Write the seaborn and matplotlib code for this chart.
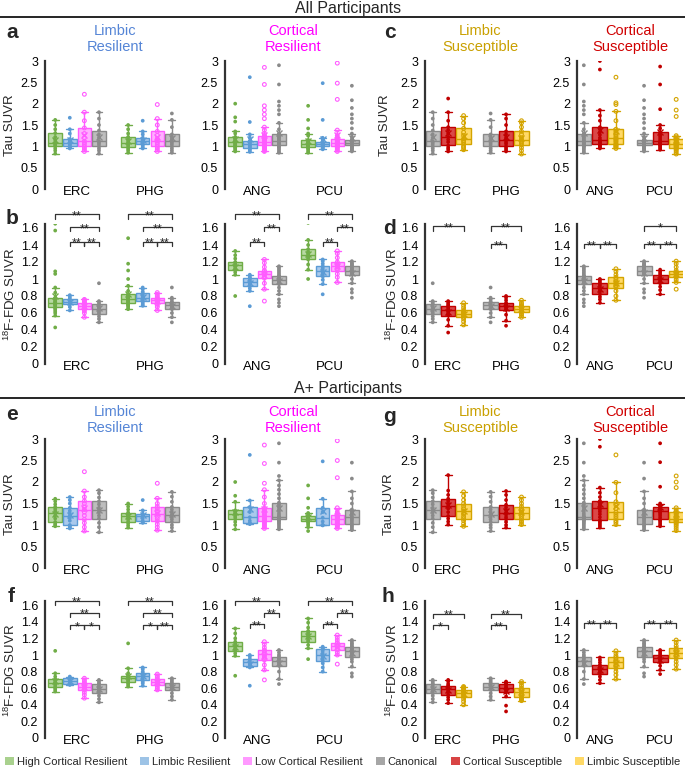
import matplotlib
matplotlib.use("Agg")
import matplotlib.pyplot as plt
from matplotlib.lines import Line2D
from matplotlib.patches import Patch
import pandas as pd
import seaborn as sns

sns.set_theme(style="white")
plt.rcParams["font.family"] = ["Liberation Sans", "DejaVu Sans"]
plt.rcParams["mathtext.fontset"] = "custom"
plt.rcParams["mathtext.rm"] = "Liberation Sans"
plt.rcParams["mathtext.it"] = "Liberation Sans"
plt.rcParams["mathtext.default"] = "regular"

W, H = 685, 768

# ---------------- categories / ticks ----------------
RES_GROUPS = ["High Cortical Resilient", "Limbic Resilient", "Low Cortical Resilient", "Canonical"]
SUS_GROUPS = ["Canonical", "Cortical Susceptible", "Limbic Susceptible"]
LEGEND_GROUPS = ["High Cortical Resilient", "Limbic Resilient", "Low Cortical Resilient",
                 "Canonical", "Cortical Susceptible", "Limbic Susceptible"]
LIMBIC = ["ERC", "PHG"]
CORTICAL = ["ANG", "PCU"]
TAU_TICKS = [0, 0.5, 1, 1.5, 2, 2.5, 3]
TAU_LABELS = ["0", "0.5", "1", "1.5", "2", "2.5", "3"]
FDG_TICKS = [0, 0.2, 0.4, 0.6, 0.8, 1.0, 1.2, 1.4, 1.6]
FDG_LABELS = ["0", "0.2", "0.4", "0.6", "0.8", "1", "1.2", "1.4", "1.6"]

# ---------------- canonical group values (shared between panels) ----------------
CAN_TAU_ALL_ERC = [0.83, 0.9, 0.95, 1.0, 1.05, 1.09, 1.12, 1.2, 1.28, 1.37, 1.5, 1.65, 1.8]
CAN_TAU_ALL_PHG = [0.85, 0.9, 0.95, 1.0, 1.05, 1.09, 1.12, 1.17, 1.22, 1.28, 1.45, 1.62, 1.77]
CAN_TAU_ALL_ANG = [0.85, 0.88, 0.92, 0.95, 0.98, 1.0, 1.01, 1.02, 1.04, 1.05, 1.06, 1.07, 1.08, 1.09, 1.1, 1.11,
                   1.12, 1.14, 1.17, 1.2, 1.22, 1.25, 1.27, 1.29, 1.3, 1.4, 1.55, 1.75, 1.85, 1.95, 2.05, 2.45, 2.9]
CAN_TAU_ALL_PCU = [0.88, 0.9, 0.92, 0.94, 0.96, 0.98, 0.99, 1.0, 1.01, 1.02, 1.03, 1.04, 1.04, 1.05, 1.05, 1.06,
                   1.06, 1.07, 1.08, 1.09, 1.1, 1.11, 1.12, 1.13, 1.14, 1.15, 1.15, 1.16, 1.22, 1.3, 1.42, 1.55,
                   1.65, 1.75, 1.9, 2.08, 2.42]
CAN_FDG_ALL_ERC = [0.49, 0.53, 0.56, 0.59, 0.61, 0.63, 0.645, 0.66, 0.68, 0.7, 0.72, 0.74, 0.95]
CAN_FDG_ALL_PHG = [0.49, 0.55, 0.6, 0.645, 0.66, 0.675, 0.69, 0.705, 0.72, 0.735, 0.76, 0.78, 0.9]
CAN_FDG_ALL_ANG = [0.68, 0.72, 0.76, 0.82, 0.86, 0.9, 0.94, 0.95, 0.96, 0.97, 0.98, 0.985, 0.99, 1.0, 1.01,
                   1.02, 1.03, 1.035, 1.04, 1.06, 1.08, 1.1, 1.12, 1.14, 1.15]
CAN_FDG_ALL_PCU = [0.78, 0.84, 0.88, 0.95, 1.0, 1.05, 1.06, 1.07, 1.08, 1.09, 1.1, 1.11, 1.12, 1.13, 1.14,
                   1.15, 1.16, 1.17, 1.18, 1.19, 1.21]
CAN_TAU_APOS_ERC = [0.83, 0.95, 1.05, 1.15, 1.22, 1.29, 1.34, 1.4, 1.48, 1.55, 1.64, 1.74, 1.81]
CAN_TAU_APOS_PHG = [0.86, 0.94, 1.0, 1.07, 1.13, 1.18, 1.24, 1.3, 1.36, 1.42, 1.54, 1.66, 1.77]
CAN_TAU_APOS_ANG = [0.9, 0.94, 0.98, 1.02, 1.05, 1.08, 1.1, 1.12, 1.13, 1.14, 1.15, 1.16, 1.16, 1.17, 1.18, 1.18,
                    1.19, 1.22, 1.26, 1.31, 1.36, 1.41, 1.45, 1.49, 1.52, 1.62, 1.72, 1.82, 1.92, 2.04, 2.14,
                    2.45, 2.9]
CAN_TAU_APOS_PCU = [0.88, 0.91, 0.95, 0.98, 1.01, 1.03, 1.07, 1.11, 1.14, 1.17, 1.19, 1.23, 1.27, 1.31, 1.34,
                    1.36, 1.5, 1.62, 1.78, 2.08, 2.45]
CAN_FDG_APOS_ERC = [0.43, 0.47, 0.51, 0.54, 0.56, 0.58, 0.595, 0.61, 0.625, 0.645, 0.66, 0.68, 0.7]
CAN_FDG_APOS_PHG = [0.46, 0.5, 0.54, 0.58, 0.595, 0.61, 0.62, 0.635, 0.65, 0.66, 0.68, 0.7, 0.72]
CAN_FDG_APOS_ANG = [0.65, 0.71, 0.8, 0.87, 0.89, 0.91, 0.93, 0.95, 0.96, 0.98, 1.0, 1.03, 1.06]
CAN_FDG_APOS_PCU = [0.74, 0.78, 0.86, 0.92, 0.95, 0.98, 1.0, 1.01, 1.03, 1.04, 1.05, 1.06, 1.07, 1.08, 1.09,
                    1.1, 1.11, 1.13, 1.14, 1.16, 1.18]

# ---------------- panel a : Tau, all participants, resilient groups ----------------
A_ERC = [[0.83, 0.9, 0.95, 1.0, 1.03, 1.06, 1.08, 1.15, 1.22, 1.31, 1.4, 1.5, 1.62],
         [0.95, 0.97, 0.98, 1.0, 1.03, 1.05, 1.08, 1.1, 1.13, 1.17, 1.3, 1.4, 1.67],
         [0.88, 0.92, 0.96, 1.0, 1.05, 1.09, 1.12, 1.2, 1.3, 1.43, 1.6, 1.8, 2.22],
         CAN_TAU_ALL_ERC]
A_PHG = [[0.85, 0.9, 0.94, 0.98, 1.02, 1.05, 1.08, 1.12, 1.17, 1.22, 1.3, 1.4, 1.5],
         [0.95, 0.98, 1.02, 1.05, 1.08, 1.1, 1.12, 1.14, 1.17, 1.2, 1.28, 1.35, 1.6],
         [0.88, 0.92, 0.96, 1.0, 1.05, 1.09, 1.12, 1.18, 1.26, 1.35, 1.5, 1.65, 1.98],
         CAN_TAU_ALL_PHG]
A_ANG = [[0.88, 0.9, 0.93, 0.96, 0.98, 1.0, 1.02, 1.04, 1.06, 1.08, 1.1, 1.13, 1.15, 1.18, 1.2, 1.22, 1.3, 1.35,
          1.58, 1.68, 2.0],
         [0.87, 0.9, 0.93, 0.95, 0.97, 0.99, 1.01, 1.03, 1.05, 1.07, 1.09, 1.11, 1.13, 1.2, 1.28, 1.57, 2.62],
         [0.88, 0.9, 0.92, 0.94, 0.96, 0.97, 0.98, 0.99, 1.0, 1.02, 1.03, 1.04, 1.05, 1.06, 1.07, 1.08, 1.09, 1.09,
          1.1, 1.12, 1.14, 1.16, 1.18, 1.2, 1.21, 1.22, 1.24, 1.25, 1.3, 1.38, 1.45, 1.65, 1.75, 1.85, 1.95, 2.45,
          2.85],
         CAN_TAU_ALL_ANG]
A_PCU = [[0.85, 0.88, 0.92, 0.95, 0.97, 0.98, 0.99, 1.01, 1.03, 1.04, 1.05, 1.07, 1.09, 1.11, 1.13, 1.15, 1.25,
          1.3, 1.42, 1.62, 1.95],
         [0.93, 0.95, 0.97, 0.99, 1.0, 1.02, 1.03, 1.04, 1.05, 1.06, 1.07, 1.09, 1.1, 1.15, 1.2, 1.62, 2.48],
         [0.88, 0.91, 0.94, 0.97, 0.99, 1.0, 1.02, 1.04, 1.06, 1.07, 1.08, 1.1, 1.12, 1.14, 1.16, 1.17, 1.25,
          1.38, 2.1, 2.48, 2.95],
         CAN_TAU_ALL_PCU]

# ---------------- panel b : FDG, all participants, resilient groups ----------------
B_ERC = [[0.43, 0.57, 0.6, 0.62, 0.64, 0.655, 0.665, 0.68, 0.69, 0.7, 0.71, 0.715, 0.72, 0.73, 0.74, 0.755,
          0.765, 0.775, 0.78, 0.84, 0.9, 1.06, 1.09, 1.57, 1.65],
         [0.63, 0.67, 0.7, 0.72, 0.735, 0.75, 0.77, 0.79, 0.81],
         [0.55, 0.6, 0.625, 0.645, 0.66, 0.675, 0.685, 0.7, 0.71, 0.72, 0.735, 0.75, 0.76],
         CAN_FDG_ALL_ERC]
B_PHG = [[0.645, 0.66, 0.68, 0.69, 0.7, 0.71, 0.72, 0.73, 0.74, 0.75, 0.76, 0.765, 0.77, 0.78, 0.79, 0.8, 0.81,
          0.815, 0.82, 0.86, 0.92, 1.0, 1.1, 1.18, 1.48],
         [0.685, 0.7, 0.72, 0.74, 0.755, 0.77, 0.78, 0.8, 0.815, 0.83, 0.85, 0.88, 0.9],
         [0.63, 0.67, 0.69, 0.715, 0.73, 0.74, 0.75, 0.76, 0.77, 0.78, 0.8, 0.82, 0.84],
         CAN_FDG_ALL_PHG]
B_ANG = [[0.8, 1.05, 1.08, 1.11, 1.13, 1.15, 1.16, 1.17, 1.19, 1.2, 1.24, 1.28, 1.33],
         [0.68, 0.86, 0.89, 0.92, 0.94, 0.96, 0.97, 0.98, 1.0, 1.01, 1.02, 1.04, 1.05],
         [0.74, 0.88, 0.95, 1.01, 1.03, 1.05, 1.06, 1.07, 1.09, 1.1, 1.14, 1.19, 1.23],
         CAN_FDG_ALL_ANG]
B_PCU = [[1.0, 1.11, 1.17, 1.23, 1.25, 1.27, 1.28, 1.3, 1.32, 1.35, 1.4, 1.46, 1.66],
         [0.82, 0.94, 0.99, 1.03, 1.05, 1.07, 1.09, 1.11, 1.13, 1.15, 1.18, 1.21, 1.23],
         [0.96, 1.02, 1.06, 1.1, 1.12, 1.14, 1.15, 1.16, 1.18, 1.2, 1.25, 1.3, 1.33],
         CAN_FDG_ALL_PCU]

# ---------------- panel c : Tau, all participants, susceptible groups ----------------
C_ERC = [CAN_TAU_ALL_ERC,
         [0.88, 0.93, 0.97, 1.02, 1.1, 1.16, 1.22, 1.3, 1.38, 1.45, 1.6, 1.8, 2.12],
         [0.92, 0.97, 1.0, 1.05, 1.1, 1.14, 1.18, 1.25, 1.33, 1.42, 1.55, 1.65, 1.72]]
C_PHG = [CAN_TAU_ALL_PHG,
         [0.88, 0.92, 0.96, 1.0, 1.06, 1.1, 1.15, 1.2, 1.28, 1.35, 1.5, 1.65, 1.75],
         [0.82, 0.9, 0.97, 1.03, 1.08, 1.12, 1.15, 1.2, 1.28, 1.35, 1.45, 1.55, 1.6]]
C_ANG = [CAN_TAU_ALL_ANG,
         [0.95, 0.97, 0.99, 1.01, 1.03, 1.05, 1.07, 1.09, 1.11, 1.13, 1.15, 1.2, 1.27, 1.33, 1.4, 1.45, 1.6, 1.72,
          1.85, 2.8, 3.0],
         [0.95, 0.98, 1.0, 1.02, 1.04, 1.06, 1.1, 1.13, 1.16, 1.18, 1.2, 1.24, 1.28, 1.32, 1.36, 1.4, 1.6, 1.82,
          1.98, 2.02, 2.62]]
C_PCU = [CAN_TAU_ALL_PCU,
         [0.92, 0.95, 0.98, 1.01, 1.03, 1.05, 1.07, 1.08, 1.1, 1.11, 1.12, 1.17, 1.22, 1.26, 1.3, 1.33, 1.42, 1.5,
          1.87, 2.45, 2.87],
         [0.82, 0.86, 0.9, 0.93, 0.95, 0.97, 0.99, 1.01, 1.02, 1.04, 1.05, 1.08, 1.1, 1.13, 1.15, 1.17, 1.22, 1.25,
          1.7, 1.85, 2.1]]

# ---------------- panel d : FDG, all participants, susceptible groups ----------------
D_ERC = [CAN_FDG_ALL_ERC,
         [0.37, 0.45, 0.52, 0.57, 0.59, 0.61, 0.63, 0.65, 0.67, 0.685, 0.7, 0.72, 0.74],
         [0.46, 0.5, 0.53, 0.55, 0.565, 0.58, 0.59, 0.6, 0.615, 0.63, 0.66, 0.69, 0.72]]
D_PHG = [CAN_FDG_ALL_PHG,
         [0.45, 0.51, 0.58, 0.635, 0.65, 0.67, 0.685, 0.69, 0.7, 0.72, 0.75, 0.78, 0.8],
         [0.55, 0.57, 0.59, 0.61, 0.625, 0.635, 0.645, 0.655, 0.67, 0.685, 0.7, 0.72, 0.75]]
D_ANG = [CAN_FDG_ALL_ANG,
         [0.72, 0.76, 0.79, 0.82, 0.85, 0.87, 0.89, 0.91, 0.93, 0.95, 0.97, 0.99, 1.0],
         [0.75, 0.8, 0.86, 0.9, 0.92, 0.94, 0.95, 0.97, 1.0, 1.02, 1.05, 1.09, 1.12]]
D_PCU = [CAN_FDG_ALL_PCU,
         [0.82, 0.87, 0.91, 0.95, 0.97, 0.99, 1.0, 1.01, 1.03, 1.05, 1.07, 1.09, 1.11],
         [0.88, 0.96, 0.99, 1.02, 1.03, 1.05, 1.06, 1.07, 1.08, 1.1, 1.14, 1.18, 1.21]]

# ---------------- panel e : Tau, A+ participants, resilient groups ----------------
E_ERC = [[0.97, 1.0, 1.03, 1.07, 1.15, 1.22, 1.28, 1.32, 1.37, 1.42, 1.48, 1.55, 1.61],
         [0.92, 0.95, 0.97, 1.0, 1.1, 1.16, 1.21, 1.27, 1.33, 1.4, 1.5, 1.58, 1.65],
         [0.86, 0.95, 1.05, 1.13, 1.22, 1.3, 1.36, 1.42, 1.5, 1.56, 1.65, 1.79, 2.24],
         CAN_TAU_APOS_ERC]
E_PHG = [[0.94, 0.99, 1.04, 1.08, 1.13, 1.17, 1.21, 1.23, 1.26, 1.29, 1.36, 1.43, 1.5],
         [1.05, 1.07, 1.09, 1.15, 1.21, 1.24, 1.26, 1.34, 1.58],
         [0.88, 0.95, 1.02, 1.09, 1.15, 1.2, 1.26, 1.32, 1.38, 1.43, 1.5, 1.62, 1.97],
         CAN_TAU_APOS_PHG]
E_ANG = [[0.9, 1.0, 1.07, 1.13, 1.18, 1.22, 1.25, 1.28, 1.31, 1.34, 1.54, 1.68, 2.0],
         [1.02, 1.04, 1.05, 1.1, 1.18, 1.3, 1.42, 1.57, 2.63],
         [0.92, 0.95, 0.98, 1.01, 1.04, 1.07, 1.09, 1.11, 1.13, 1.15, 1.17, 1.19, 1.21, 1.24, 1.27, 1.3, 1.33,
          1.36, 1.39, 1.5, 1.65, 1.82, 1.97, 2.43, 2.86],
         CAN_TAU_APOS_ANG]
E_PCU = [[0.86, 0.95, 1.0, 1.04, 1.07, 1.09, 1.1, 1.12, 1.13, 1.14, 1.15, 1.16, 1.17, 1.19, 1.2, 1.21, 1.24,
          1.28, 1.4, 1.62, 1.92],
         [0.99, 1.0, 1.0, 1.08, 1.17, 1.3, 1.4, 1.61, 2.48],
         [0.92, 0.95, 0.98, 1.0, 1.02, 1.03, 1.06, 1.09, 1.11, 1.13, 1.15, 1.17, 1.19, 1.21, 1.22, 1.23, 1.3, 1.4,
          2.1, 2.5, 2.96],
         CAN_TAU_APOS_PCU]

# ---------------- panel f : FDG, A+ participants, resilient groups ----------------
F_ERC = [[0.56, 0.58, 0.6, 0.61, 0.63, 0.65, 0.66, 0.67, 0.69, 0.71, 0.74, 0.78, 1.05],
         [0.64, 0.645, 0.65, 0.67, 0.69, 0.705, 0.72, 0.73, 0.74],
         [0.48, 0.52, 0.55, 0.58, 0.6, 0.61, 0.62, 0.635, 0.65, 0.66, 0.68, 0.7, 0.72],
         CAN_FDG_APOS_ERC]
F_PHG = [[0.62, 0.64, 0.66, 0.67, 0.69, 0.7, 0.72, 0.73, 0.74, 0.75, 0.78, 0.84, 1.14],
         [0.63, 0.66, 0.68, 0.7, 0.72, 0.735, 0.75, 0.76, 0.77, 0.78, 0.8, 0.83, 0.85],
         [0.58, 0.6, 0.62, 0.64, 0.65, 0.66, 0.67, 0.68, 0.7, 0.71, 0.73, 0.75, 0.77],
         CAN_FDG_APOS_PHG]
F_ANG = [[0.75, 0.99, 1.02, 1.05, 1.07, 1.09, 1.11, 1.12, 1.14, 1.16, 1.2, 1.26, 1.32],
         [0.63, 0.85, 0.87, 0.89, 0.91, 0.93, 0.95, 0.98, 1.0],
         [0.7, 0.82, 0.88, 0.94, 0.97, 0.99, 1.01, 1.03, 1.05, 1.06, 1.09, 1.13, 1.16],
         CAN_FDG_APOS_ANG]
F_PCU = [[0.95, 1.08, 1.12, 1.16, 1.18, 1.21, 1.23, 1.25, 1.27, 1.29, 1.33, 1.39, 1.44],
         [0.8, 0.85, 0.9, 0.93, 0.95, 0.98, 1.0, 1.02, 1.05, 1.07, 1.08, 1.09, 1.1],
         [0.89, 1.0, 1.03, 1.06, 1.08, 1.1, 1.11, 1.12, 1.14, 1.15, 1.18, 1.21, 1.24],
         CAN_FDG_APOS_PCU]

# ---------------- panel g : Tau, A+ participants, susceptible groups ----------------
G_ERC = [CAN_TAU_APOS_ERC,
         [1.01, 1.08, 1.15, 1.21, 1.3, 1.38, 1.44, 1.5, 1.56, 1.61, 1.7, 1.8, 2.16],
         [0.97, 1.03, 1.1, 1.15, 1.2, 1.26, 1.32, 1.38, 1.44, 1.5, 1.58, 1.68, 1.77]]
G_PHG = [CAN_TAU_APOS_PHG,
         [0.94, 1.0, 1.07, 1.13, 1.18, 1.24, 1.29, 1.35, 1.41, 1.47, 1.58, 1.7, 1.79],
         [1.01, 1.06, 1.1, 1.15, 1.2, 1.25, 1.29, 1.33, 1.38, 1.43, 1.5, 1.58, 1.65]]
G_ANG = [CAN_TAU_APOS_ANG,
         [0.94, 0.98, 1.02, 1.06, 1.09, 1.11, 1.18, 1.25, 1.31, 1.36, 1.4, 1.44, 1.48, 1.51, 1.54, 1.56, 1.65,
          1.75, 1.87, 2.82, 3.0],
         [1.01, 1.06, 1.1, 1.15, 1.2, 1.25, 1.3, 1.38, 1.46, 1.54, 1.75, 1.99, 2.63]]
G_PCU = [CAN_TAU_APOS_PCU,
         [0.97, 1.0, 1.04, 1.08, 1.11, 1.13, 1.18, 1.23, 1.27, 1.3, 1.32, 1.34, 1.36, 1.38, 1.4, 1.42, 1.46, 1.5,
          1.89, 2.46, 2.9],
         [0.87, 0.92, 0.97, 1.01, 1.04, 1.07, 1.09, 1.11, 1.12, 1.14, 1.15, 1.19, 1.23, 1.26, 1.29, 1.31, 1.35,
          1.4, 1.87, 2.0, 2.14]]

# ---------------- panel h : FDG, A+ participants, susceptible groups ----------------
H_ERC = [CAN_FDG_APOS_ERC,
         [0.42, 0.46, 0.49, 0.52, 0.55, 0.57, 0.59, 0.6, 0.62, 0.63, 0.65, 0.68, 0.7],
         [0.4, 0.44, 0.47, 0.5, 0.52, 0.53, 0.54, 0.55, 0.57, 0.58, 0.6, 0.61, 0.62]]
H_PHG = [CAN_FDG_APOS_PHG,
         [0.32, 0.39, 0.5, 0.55, 0.57, 0.59, 0.6, 0.61, 0.63, 0.65, 0.66, 0.67, 0.68],
         [0.45, 0.47, 0.48, 0.49, 0.51, 0.53, 0.55, 0.57, 0.58, 0.6, 0.63, 0.66, 0.68]]
H_ANG = [CAN_FDG_APOS_ANG,
         [0.66, 0.7, 0.74, 0.77, 0.79, 0.81, 0.83, 0.85, 0.86, 0.88, 0.91, 0.94, 0.97],
         [0.71, 0.76, 0.8, 0.84, 0.87, 0.89, 0.91, 0.93, 0.95, 0.97, 0.99, 1.02, 1.05]]
H_PCU = [CAN_FDG_APOS_PCU,
         [0.77, 0.82, 0.87, 0.91, 0.93, 0.95, 0.96, 0.97, 0.98, 1.0, 1.02, 1.04, 1.06],
         [0.83, 0.88, 0.92, 0.96, 0.99, 1.01, 1.03, 1.05, 1.06, 1.08, 1.11, 1.15, 1.18]]

# ---------------- significance brackets: (region, group i, group j, height, label) ----------------
B_LEFT_SIG = [(0, 0, 3, 1.76, "**"), (0, 1, 3, 1.61, "**"), (0, 1, 2, 1.44, "**"), (0, 2, 3, 1.44, "**"),
              (1, 0, 3, 1.76, "**"), (1, 1, 3, 1.61, "**"), (1, 1, 2, 1.44, "**"), (1, 2, 3, 1.44, "**")]
B_RIGHT_SIG = [(0, 0, 3, 1.76, "**"), (0, 2, 3, 1.61, "**"), (0, 1, 2, 1.44, "**"),
               (1, 0, 3, 1.76, "**"), (1, 2, 3, 1.61, "**"), (1, 1, 2, 1.44, "**")]
D_LEFT_SIG = [(0, 0, 2, 1.62, "**"), (1, 0, 2, 1.62, "**"), (1, 0, 1, 1.41, "**")]
D_RIGHT_SIG = [(0, 0, 1, 1.41, "**"), (0, 1, 2, 1.41, "**"),
               (1, 0, 2, 1.62, "*"), (1, 0, 1, 1.41, "**"), (1, 1, 2, 1.41, "**")]
F_LEFT_SIG = [(0, 0, 3, 1.65, "**"), (0, 1, 3, 1.51, "**"), (0, 1, 2, 1.36, "*"), (0, 2, 3, 1.36, "*"),
              (1, 0, 3, 1.65, "**"), (1, 1, 3, 1.51, "**"), (1, 1, 2, 1.36, "*"), (1, 2, 3, 1.36, "**")]
F_RIGHT_SIG = [(0, 0, 3, 1.65, "**"), (0, 2, 3, 1.51, "**"), (0, 1, 2, 1.37, "**"),
               (1, 0, 3, 1.65, "**"), (1, 2, 3, 1.51, "**"), (1, 1, 2, 1.37, "**")]
H_LEFT_SIG = [(0, 0, 2, 1.5, "**"), (0, 0, 1, 1.36, "*"), (1, 0, 2, 1.5, "**"), (1, 0, 1, 1.36, "**")]
H_RIGHT_SIG = [(0, 0, 1, 1.38, "**"), (0, 1, 2, 1.38, "**"), (1, 0, 1, 1.38, "**"), (1, 1, 2, 1.38, "**")]

# ---------------- styles ----------------
# group: (box fill, box edge, point colour, hollow points, legend colour)
STYLE = {
    "High Cortical Resilient": ("#b8d9a2", "#70ad47", "#70ad47", False, "#a9d18e"),
    "Limbic Resilient": ("#a9c9ec", "#5b9bd5", "#5b9bd5", False, "#9dc3e6"),
    "Low Cortical Resilient": ("#ffb0ff", "#ff5cff", "#ff5cff", True, "#ff99ff"),
    "Canonical": ("#bdbdbd", "#8a8a8a", "#8a8a8a", False, "#a6a6a6"),
    "Cortical Susceptible": ("#d94848", "#c00000", "#c00000", False, "#d84444"),
    "Limbic Susceptible": ("#ffd966", "#d4a400", "#d4a400", True, "#ffd966"),
}

fig = plt.figure(figsize=(W / 100, H / 100), dpi=100)


def add_axes_px(x0, x1, y0, y1):
    return fig.add_axes([x0 / W, 1 - y1 / H, (x1 - x0) / W, (y1 - y0) / H])


def draw(ax, regions, groups, region_lists, ylim, ticks, labels, xlim, sigs=(), tick_len=0.05):
    rows = []
    for r, per_group in zip(regions, region_lists):
        for g, vals in zip(groups, per_group):
            rows += [(r, g, v) for v in vals]
    df = pd.DataFrame(rows, columns=["region", "group", "value"])
    fills = {g: STYLE[g][0] for g in groups}
    pts = {g: STYLE[g][2] for g in groups}
    for g in groups:
        sub = df[df["group"] == g]
        edge = STYLE[g][1]
        sns.boxplot(data=sub, x="region", y="value", hue="group", order=regions, hue_order=groups,
                    palette=fills, dodge=True, width=0.8, gap=0.07, saturation=1, linecolor=edge,
                    linewidth=1.0, whis=1.5, showfliers=False, showmeans=True,
                    meanprops=dict(marker="x", markeredgecolor=edge, markersize=4.5, markeredgewidth=1.0),
                    legend=False, ax=ax)
    for g in groups:
        sub = df[df["group"] == g]
        n0 = len(ax.collections)
        sns.stripplot(data=sub, x="region", y="value", hue="group", order=regions, hue_order=groups,
                      palette=pts, dodge=True, jitter=False, size=2.7, linewidth=0, legend=False, ax=ax,
                      zorder=4)
        if STYLE[g][3]:
            for c in ax.collections[n0:]:
                c.set_facecolor("none")
                c.set_edgecolor(pts[g])
                c.set_linewidth(0.8)
    ax.set_xlim(*xlim)
    ax.set_ylim(*ylim)
    ax.set_yticks(ticks)
    ax.set_yticklabels(labels)
    ax.set_xlabel("")
    ax.set_ylabel("")
    for s in ["top", "right", "bottom"]:
        ax.spines[s].set_visible(False)
    ax.spines["left"].set_color("#333333")
    ax.spines["left"].set_linewidth(1.6)
    ax.spines["left"].set_zorder(10)
    ax.tick_params(axis="y", length=0, pad=5, labelsize=9, labelcolor="black")
    ax.tick_params(axis="x", length=0, pad=-2, labelsize=9.5, labelcolor="black")
    ax.set_facecolor("none")
    n = len(groups)
    for (ri, i, j, y, lab) in sigs:
        x1 = ri - 0.4 + 0.8 / n * (i + 0.5)
        x2 = ri - 0.4 + 0.8 / n * (j + 0.5)
        ax.plot([x1, x1, x2, x2], [y - tick_len, y, y, y - tick_len], color="#333333", lw=0.9,
                clip_on=False)
        ax.annotate(lab, ((x1 + x2) / 2, y), xytext=(0, -3.5), textcoords="offset points",
                    ha="center", va="baseline", fontsize=9, annotation_clip=False)


RES_X = [(45, 185, (-0.44, 1.48)), (225, 365, (-0.44, 1.48))]
SUS_X = [(425, 535, (-0.40, 1.50)), (577, 683, (-0.38, 1.38))]
TAU_YLIM = (0, 3)
FDG_YLIM = (0, 1.65)

# rows: (y_top px, y_bottom px, ylim, ticks, labels)
ROW_A = (61, 189, TAU_YLIM, TAU_TICKS, TAU_LABELS)
ROW_B = (364 - 1.65 * 85, 364, FDG_YLIM, FDG_TICKS, FDG_LABELS)
ROW_E = (439, 568, TAU_YLIM, TAU_TICKS, TAU_LABELS)
ROW_F = (738 - 1.65 * 83, 738, FDG_YLIM, FDG_TICKS, FDG_LABELS)

panels = [
    (ROW_A, RES_X, RES_GROUPS, [(LIMBIC, [A_ERC, A_PHG], ()), (CORTICAL, [A_ANG, A_PCU], ())]),
    (ROW_B, RES_X, RES_GROUPS, [(LIMBIC, [B_ERC, B_PHG], B_LEFT_SIG), (CORTICAL, [B_ANG, B_PCU], B_RIGHT_SIG)]),
    (ROW_A, SUS_X, SUS_GROUPS, [(LIMBIC, [C_ERC, C_PHG], ()), (CORTICAL, [C_ANG, C_PCU], ())]),
    (ROW_B, SUS_X, SUS_GROUPS, [(LIMBIC, [D_ERC, D_PHG], D_LEFT_SIG), (CORTICAL, [D_ANG, D_PCU], D_RIGHT_SIG)]),
    (ROW_E, RES_X, RES_GROUPS, [(LIMBIC, [E_ERC, E_PHG], ()), (CORTICAL, [E_ANG, E_PCU], ())]),
    (ROW_F, RES_X, RES_GROUPS, [(LIMBIC, [F_ERC, F_PHG], F_LEFT_SIG), (CORTICAL, [F_ANG, F_PCU], F_RIGHT_SIG)]),
    (ROW_E, SUS_X, SUS_GROUPS, [(LIMBIC, [G_ERC, G_PHG], ()), (CORTICAL, [G_ANG, G_PCU], ())]),
    (ROW_F, SUS_X, SUS_GROUPS, [(LIMBIC, [H_ERC, H_PHG], H_LEFT_SIG), (CORTICAL, [H_ANG, H_PCU], H_RIGHT_SIG)]),
]

for (row, cols, groups, subs) in panels:
    y0, y1, ylim, ticks, labels = row
    tick_len = 0.05 if ylim[1] < 2 else 0.1
    for (x0, x1, xlim), (regions, data, sigs) in zip(cols, subs):
        ax = add_axes_px(x0, x1, y0, y1)
        draw(ax, regions, groups, data, ylim, ticks, labels, xlim, sigs, tick_len)


def ftext(x, y, s, **kw):
    fig.text(x / W, 1 - y / H, s, **kw)


# headers and separating lines
ftext(348, 8, "All Participants", ha="center", va="center", fontsize=11.5)
fig.add_artist(Line2D([0, 1], [1 - 17 / H] * 2, color="black", lw=1.2))
ftext(348, 388, "A+ Participants", ha="center", va="center", fontsize=11.5)
fig.add_artist(Line2D([0, 1], [1 - 398 / H] * 2, color="black", lw=1.2))

# panel letters
for lab, x, y in [("a", 12, 32), ("b", 12, 218), ("c", 390, 32), ("d", 390, 228),
                  ("e", 12, 415), ("f", 11, 597), ("g", 389, 417), ("h", 388, 597)]:
    ftext(x, y, lab, ha="center", va="center", fontsize=15, fontweight="bold")

# group titles
for ty in (39, 420):
    ftext(115, ty, "Limbic\nResilient", ha="center", va="center", fontsize=10.5, color="#5585d6",
          linespacing=1.2)
    ftext(293, ty, "Cortical\nResilient", ha="center", va="center", fontsize=10.5, color="#ff00ff",
          linespacing=1.2)
    ftext(480, ty, "Limbic\nSusceptible", ha="center", va="center", fontsize=10.5, color="#c9a000",
          linespacing=1.2)
    ftext(630, ty, "Cortical\nSusceptible", ha="center", va="center", fontsize=10.5, color="#d00000",
          linespacing=1.2)

# y-axis labels
for x, y in [(10, 125), (385, 125), (10, 504), (389, 504)]:
    ftext(x, y, "Tau SUVR", ha="center", va="center", rotation=90, fontsize=9.5)
for x, y in [(10, 294), (392, 294), (10, 670), (392, 670)]:
    ftext(x, y, r"$^{18}$F-FDG SUVR", ha="center", va="center", rotation=90, fontsize=9.5)

# legend
handles = [Patch(facecolor=STYLE[g][4], edgecolor="none", label=g) for g in LEGEND_GROUPS]
fig.legend(handles=handles, loc="center", bbox_to_anchor=(0.5, 1 - 762 / H), ncol=6, frameon=False,
           fontsize=8, handlelength=0.8, handleheight=0.8, handletextpad=0.25, columnspacing=1.2,
           borderaxespad=0, borderpad=0)

fig.savefig("out.png", dpi=100)
